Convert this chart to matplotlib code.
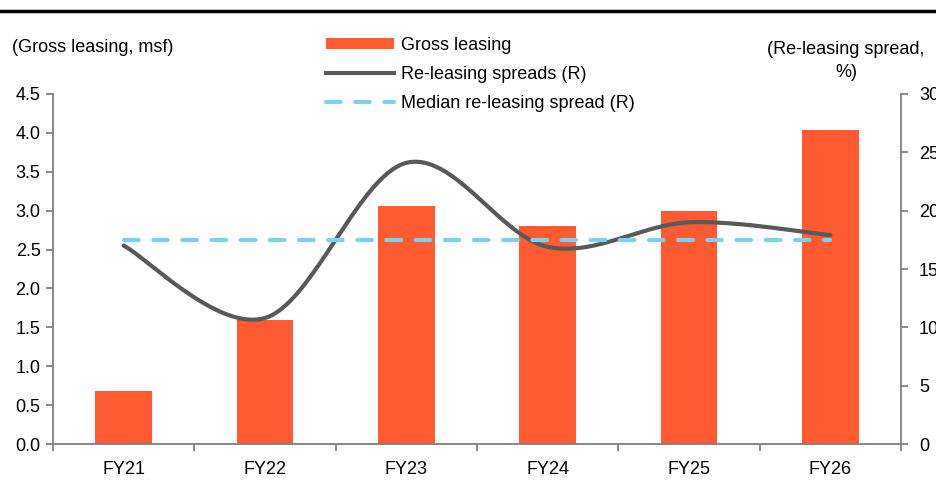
import numpy as np
import matplotlib.pyplot as plt
from matplotlib.lines import Line2D
from matplotlib.patches import Patch

plt.rcParams['font.family'] = ['Liberation Sans', 'DejaVu Sans']

years = ["FY21", "FY22", "FY23", "FY24", "FY25", "FY26"]
gross_leasing = [0.68, 1.60, 3.06, 2.80, 3.00, 4.04]
releasing_spread = [17.0, 10.8, 24.1, 16.9, 19.0, 17.9]
median_spread = float(np.median(releasing_spread))

BAR_COLOR = "#FF5A32"
LINE_COLOR = "#595959"
MEDIAN_COLOR = "#7FD1EA"
AXIS_COLOR = "#808080"
FS = 13


def smooth_curve(xs, ys, n=40):
    """Catmull-Rom style smoothing through the points (like a spreadsheet smoothed line)."""
    xs = np.asarray(xs, float)
    ys = np.asarray(ys, float)
    px = np.concatenate([[xs[0]], xs, [xs[-1]]])
    py = np.concatenate([[ys[0]], ys, [ys[-1]]])
    out_x, out_y = [], []
    for i in range(1, len(px) - 2):
        p0, p1, p2, p3 = (np.array([px[j], py[j]]) for j in (i - 1, i, i + 1, i + 2))
        c1 = p1 + (p2 - p0) / 6.0
        c2 = p2 - (p3 - p1) / 6.0
        t = np.linspace(0, 1, n)[:, None]
        pts = ((1 - t) ** 3) * p1 + 3 * ((1 - t) ** 2) * t * c1 + 3 * (1 - t) * t ** 2 * c2 + t ** 3 * p2
        out_x.extend(pts[:, 0])
        out_y.extend(pts[:, 1])
    return np.array(out_x), np.array(out_y)


fig = plt.figure(figsize=(9.37, 4.82), dpi=100)
ax = fig.add_axes([0.0566, 0.0788, 0.9050, 0.7262])
ax2 = ax.twinx()

x = np.arange(len(years))
ax.bar(x, gross_leasing, width=0.4, color=BAR_COLOR, zorder=2)
ax.set_xlim(-0.5, len(years) - 0.5)
ax.set_ylim(0, 4.5)
ax.set_yticks(np.arange(0, 4.51, 0.5))
ax.set_yticklabels([f"{v:.1f}" for v in np.arange(0, 4.51, 0.5)], fontsize=FS)

ax.set_xticks(x)
ax.set_xticklabels(years, fontsize=FS)
ax.set_xticks(np.arange(-0.5, len(years)), minor=True)
ax.tick_params(axis='x', which='major', length=0, pad=12)
ax.tick_params(axis='x', which='minor', length=5, color=AXIS_COLOR, width=1.3, direction='out')
ax.tick_params(axis='y', length=5, color=AXIS_COLOR, width=1.3, direction='out', pad=4)

sx, sy = smooth_curve(x, releasing_spread)
ax2.plot(sx, sy, color=LINE_COLOR, lw=3, solid_capstyle='round', zorder=3)
ax2.plot([x[0], x[-1]], [median_spread, median_spread], color=MEDIAN_COLOR, lw=3,
         dashes=(3.5, 3.5), dash_capstyle='round', zorder=3)
ax2.set_ylim(0, 30)
ax2.set_yticks(np.arange(0, 31, 5))
ax2.set_yticklabels([str(v) for v in range(0, 31, 5)], fontsize=FS)
ax2.tick_params(axis='y', length=5, color=AXIS_COLOR, width=1.3, direction='out', pad=8)

for a in (ax, ax2):
    a.spines['top'].set_visible(False)
    for s in ('left', 'right', 'bottom'):
        a.spines[s].set_color(AXIS_COLOR)
        a.spines[s].set_linewidth(1.3)
ax.spines['right'].set_visible(False)
ax2.spines['left'].set_visible(False)
ax2.spines['bottom'].set_visible(False)

fig.text(12 / 937, 1 - 47 / 482, "(Gross leasing, msf)", fontsize=FS, va='center', ha='left')
fig.text(846 / 937, 1 - 61 / 482, "(Re-leasing spread,\n%)", fontsize=FS, va='center',
         ha='center', linespacing=1.5)

handles = [
    Patch(facecolor=BAR_COLOR, edgecolor='none'),
    Line2D([], [], color=LINE_COLOR, lw=3),
    Line2D([], [], color=MEDIAN_COLOR, lw=3, dashes=(3.5, 3.5), dash_capstyle='round'),
]
labels = ["Gross leasing", "Re-leasing spreads (R)", "Median re-leasing spread (R)"]
fig.legend(handles, labels, loc='upper left', bbox_to_anchor=(322 / 937, 1 - 33 / 482),
           frameon=False, fontsize=FS, handlelength=3.8, handleheight=0.6,
           handletextpad=0.4, labelspacing=0.68, borderaxespad=0, borderpad=0.2)

# Heading rule across the top
fig.add_artist(Line2D([0, 1], [1 - 10.5 / 482, 1 - 10.5 / 482], color='black', lw=2.5,
                      transform=fig.transFigure))

fig.savefig("out.png", dpi=100)
